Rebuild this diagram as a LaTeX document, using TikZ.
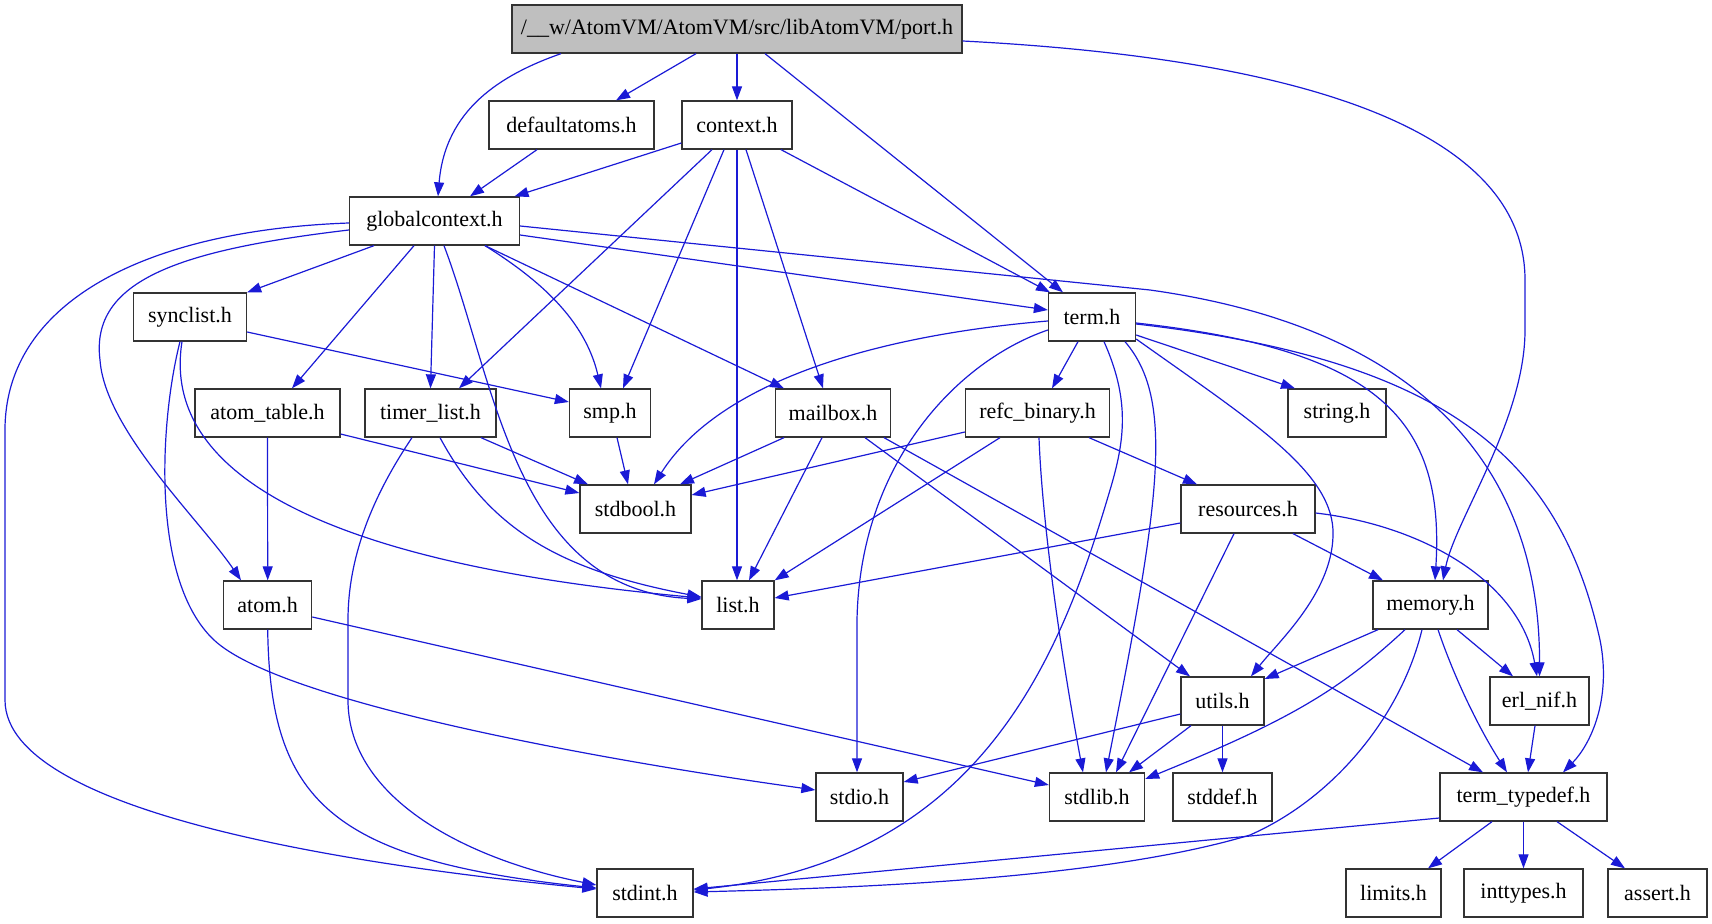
\documentclass[tikz,border=0pt]{standalone}
\usepackage{fontspec}
\setmainfont{Liberation Serif}
\usetikzlibrary{arrows.meta,calc}
\definecolor{edgeblue}{RGB}{26,26,214}
\begin{document}
\begin{tikzpicture}[x=1pt,y=-1pt,
  box/.style={draw=black!80, line width=1.3pt, fill=white, minimum height=48pt, inner xsep=2pt, inner ysep=2pt, font=\fontsize{22}{25}\selectfont},
  edge/.style={draw=edgeblue, line width=1.2pt, -{Triangle[length=14pt,width=10pt]}}]
\useasboundingbox (0,0) rectangle (1712,923);
% nodes
\node[box,fill=black!25,minimum width=450pt] (port) at (737,29) {/\_\_w/AtomVM/AtomVM/src/libAtomVM/port.h};
\node[box,minimum width=165pt] (defaultatoms) at (571.5,125) {defaultatoms.h};
\node[box,minimum width=110pt] (context) at (737,125) {context.h};
\node[box,minimum width=170pt] (globalcontext) at (434.5,221) {globalcontext.h};
\node[box,minimum width=113pt] (synclist) at (190,317) {synclist.h};
\node[box,minimum width=87pt] (term) at (1092,317) {term.h};
\node[box,minimum width=145pt] (atomtable) at (267.5,413) {atom\_table.h};
\node[box,minimum width=131pt] (timerlist) at (430.5,413) {timer\_list.h};
\node[box,minimum width=81pt] (smp) at (610,413) {smp.h};
\node[box,minimum width=115pt] (mailbox) at (833,413) {mailbox.h};
\node[box,minimum width=144pt] (refcbinary) at (1037.5,413) {refc\_binary.h};
\node[box,minimum width=98pt] (string) at (1337,413) {string.h};
\node[box,minimum width=111pt] (stdbool) at (635.5,509) {stdbool.h};
\node[box,minimum width=134pt] (resources) at (1248,509) {resources.h};
\node[box,minimum width=88pt] (atom) at (267.7,605) {atom.h};
\node[box,minimum width=72pt] (list) at (738,605) {list.h};
\node[box,minimum width=115pt] (memory) at (1430.5,605) {memory.h};
\node[box,minimum width=83pt] (utils) at (1222.5,701) {utils.h};
\node[box,minimum width=99pt] (erlnif) at (1539.5,701) {erl\_nif.h};
\node[box,minimum width=87pt] (stdio) at (859.5,797) {stdio.h};
\node[box,minimum width=95pt] (stdlib) at (1097,797) {stdlib.h};
\node[box,minimum width=99pt] (stddef) at (1222.5,797) {stddef.h};
\node[box,minimum width=167pt] (termtypedef) at (1523.5,797) {term\_typedef.h};
\node[box,minimum width=96pt] (stdint) at (645,893) {stdint.h};
\node[box,minimum width=95pt] (limits) at (1393.5,893) {limits.h};
\node[box,minimum width=119pt] (inttypes) at (1523.5,893) {inttypes.h};
\node[box,minimum width=99pt] (assert) at (1657.5,893) {assert.h};
% edges
\draw[edge] ($(port.south)+(-41,0)$) -- ($(defaultatoms.north)+(44.5,0)$);
\draw[edge] (port.south) -- (context.north);
\draw[edge] ($(port.south)+(-176,0)$) .. controls (500,75) and (445,110) .. ($(globalcontext.north)+(3.5,0)$);
\draw[edge] ($(port.south)+(28,0)$) -- ($(term.north)+(-29,0)$);
\draw[edge] ($(port.east)+(0,12)$) .. controls (1330,60) and (1525,140) .. (1525,280) -- (1525,330) .. controls (1525,420) and (1455,520) .. ($(memory.north)+(12.5,0)$);
\draw[edge] ($(defaultatoms.south)+(-34.5,0)$) -- ($(globalcontext.north)+(35.5,0)$);
\draw[edge] ($(context.west)+(0,18)$) -- ($(globalcontext.north)+(80,0)$);
\draw[edge] ($(context.south)+(-25,0)$) -- ($(timerlist.north)+(28.5,0)$);
\draw[edge] ($(context.south)+(-13,0)$) -- ($(smp.north)+(13,0)$);
\draw[edge] (context.south) -- ($(list.north)+(-1,0)$);
\draw[edge] ($(context.south)+(9,0)$) -- ($(mailbox.north)+(-10,0)$);
\draw[edge] ($(context.south)+(44,0)$) -- ($(term.north)+(-42,0)$);
\draw[edge] ($(globalcontext.south)+(-60.5,0)$) -- (synclist.north east);
\draw[edge] ($(globalcontext.south)+(-20.5,0)$) -- ($(atomtable.north)+(24.5,0)$);
\draw[edge] (globalcontext.south) -- (timerlist.north);
\draw[edge] ($(globalcontext.south)+(9.5,0)$) .. controls (495,380) and (515,590) .. ($(list.west)+(0,-6)$);
\draw[edge] ($(globalcontext.south)+(50.5,0)$) .. controls (540,280) and (585,320) .. ($(smp.north)+(-9,0)$);
\draw[edge] ($(globalcontext.south)+(50.5,0)$) -- ($(mailbox.north)+(-49,0)$);
\draw[edge] ($(globalcontext.east)+(0,14)$) -- ($(term.west)+(0,-7)$);
\draw[edge] ($(globalcontext.east)+(0,5)$) -- (1150,290) .. controls (1400,325) and (1540,450) .. (erlnif.north);
\draw[edge] ($(globalcontext.west)+(0,9)$) .. controls (180,250) and (90,280) .. (100,360) .. controls (105,430) and (200,520) .. ($(atom.north)+(-26.7,0)$);
\draw[edge] ($(globalcontext.west)+(0,2)$) .. controls (150,230) and (5,300) .. (5,430) -- (5,700) .. controls (5,820) and (400,870) .. ($(stdint.west)+(0,-4)$);
\draw[edge] ($(synclist.east)+(0,15)$) -- ($(smp.west)+(0,-11)$);
\draw[edge] ($(synclist.south)+(-8,0)$) .. controls (160,480) and (340,565) .. ($(list.west)+(0,-7)$);
\draw[edge] ($(synclist.south)+(-10,0)$) .. controls (160,420) and (150,580) .. (214,640) .. controls (280,702) and (600,760) .. ($(stdio.west)+(0,-7)$);
\draw[edge] (atomtable.south) -- (atom.north);
\draw[edge] ($(atomtable.east)+(0,21)$) -- ($(stdbool.west)+(0,-16)$);
\draw[edge] ($(timerlist.south)+(50.5,0)$) -- ($(stdbool.north)+(-47.5,0)$);
\draw[edge] ($(timerlist.south)+(9.5,0)$) .. controls (490,530) and (560,570) .. ($(list.west)+(0,-8)$);
\draw[edge] ($(timerlist.south)+(-18.5,0)$) .. controls (370,500) and (348,560) .. (348,620) -- (348,700) .. controls (348,800) and (470,860) .. ($(stdint.west)+(0,-8)$);
\draw[edge] ($(smp.south)+(7,0)$) -- ($(stdbool.north)+(-7.5,0)$);
\draw[edge] ($(mailbox.south)+(-49,0)$) -- ($(stdbool.north)+(44.5,0)$);
\draw[edge] ($(mailbox.south)+(-11,0)$) -- ($(list.north)+(11,0)$);
\draw[edge] ($(mailbox.south)+(32,0)$) -- ($(utils.north)+(-32.5,0)$);
\draw[edge] ($(mailbox.south)+(51,0)$) -- ($(termtypedef.north)+(-40.5,0)$);
\draw[edge] ($(refcbinary.west)+(0,19)$) -- ($(stdbool.east)+(0,-14)$);
\draw[edge] ($(refcbinary.south)+(-37.5,0)$) -- (list.north east);
\draw[edge] ($(refcbinary.south)+(1.5,0)$) .. controls (1042,520) and (1060,650) .. ($(stdlib.north)+(-14,0)$);
\draw[edge] ($(refcbinary.south)+(51.5,0)$) -- ($(resources.north)+(-51,0)$);
\draw[edge] ($(term.west)+(0,4)$) .. controls (880,335) and (720,380) .. ($(stdbool.north)+(18.5,0)$);
\draw[edge] ($(term.west)+(0,13)$) .. controls (960,360) and (860,460) .. (857,620) -- ($(stdio.north)+(-2.5,0)$);
\draw[edge] ($(term.south)+(-14,0)$) -- ($(refcbinary.north)+(14.5,0)$);
\draw[edge] ($(term.south)+(12,0)$) .. controls (1130,400) and (1125,440) .. (1110,490) .. controls (1060,660) and (980,860) .. ($(stdint.east)+(0,-3)$);
\draw[edge] ($(term.south)+(33,0)$) .. controls (1175,400) and (1160,500) .. ($(stdlib.north)+(9,0)$);
\draw[edge] ($(term.east)+(0,18)$) -- ($(string.north)+(-42,0)$);
\draw[edge] ($(term.east)+(0,22)$) .. controls (1250,420) and (1330,470) .. (1333,530) .. controls (1335,590) and (1280,640) .. ($(utils.north)+(28.5,0)$);
\draw[edge] ($(term.east)+(0,6)$) .. controls (1380,350) and (1445,420) .. ($(memory.north)+(4.5,0)$);
\draw[edge] ($(term.east)+(0,7)$) .. controls (1450,360) and (1560,460) .. (1600,640) .. controls (1612,700) and (1590,745) .. ($(termtypedef.north)+(39.5,0)$);
\draw[edge] (atom.south) .. controls (270,800) and (330,860) .. ($(stdint.west)+(0,-5)$);
\draw[edge] ($(atom.east)+(0,12)$) -- ($(stdlib.west)+(0,-12)$);
\draw[edge] ($(resources.west)+(0,14)$) -- ($(list.east)+(0,-7)$);
\draw[edge] ($(resources.south)+(-14,0)$) -- ($(stdlib.north)+(19,0)$);
\draw[edge] ($(resources.south)+(45,0)$) -- ($(memory.north)+(-47.5,0)$);
\draw[edge] ($(resources.east)+(0,4)$) .. controls (1420,525) and (1520,580) .. ($(erlnif.north)+(-2.5,0)$);
\draw[edge] ($(memory.south)+(-52.5,0)$) -- ($(utils.east)+(0,-22)$);
\draw[edge] ($(memory.south)+(-25.5,0)$) .. controls (1340,690) and (1290,720) .. ($(stdlib.east)+(0,-18)$);
\draw[edge] ($(memory.south)+(-8.5,0)$) .. controls (1400,720) and (1330,800) .. (1250,835) .. controls (1100,880) and (850,888) .. ($(stdint.east)+(0,-1)$);
\draw[edge] ($(memory.south)+(7.5,0)$) .. controls (1455,680) and (1480,730) .. ($(termtypedef.north)+(-16.5,0)$);
\draw[edge] ($(memory.south)+(26.5,0)$) -- ($(erlnif.north)+(-26.5,0)$);
\draw[edge] ($(erlnif.south)+(-4.5,0)$) -- ($(termtypedef.north)+(4.5,0)$);
\draw[edge] ($(utils.west)+(0,13)$) -- ($(stdio.east)+(0,-15)$);
\draw[edge] ($(utils.south)+(-31.5,0)$) -- ($(stdlib.north)+(32,0)$);
\draw[edge] (utils.south) -- (stddef.north);
\draw[edge] ($(termtypedef.west)+(0,21)$) -- ($(stdint.east)+(0,-4)$);
\draw[edge] ($(termtypedef.south)+(-31.5,0)$) -- ($(limits.north)+(34.5,0)$);
\draw[edge] (termtypedef.south) -- (inttypes.north);
\draw[edge] ($(termtypedef.south)+(33.5,0)$) -- ($(assert.north)+(-32.5,0)$);
\end{tikzpicture}
\end{document}
